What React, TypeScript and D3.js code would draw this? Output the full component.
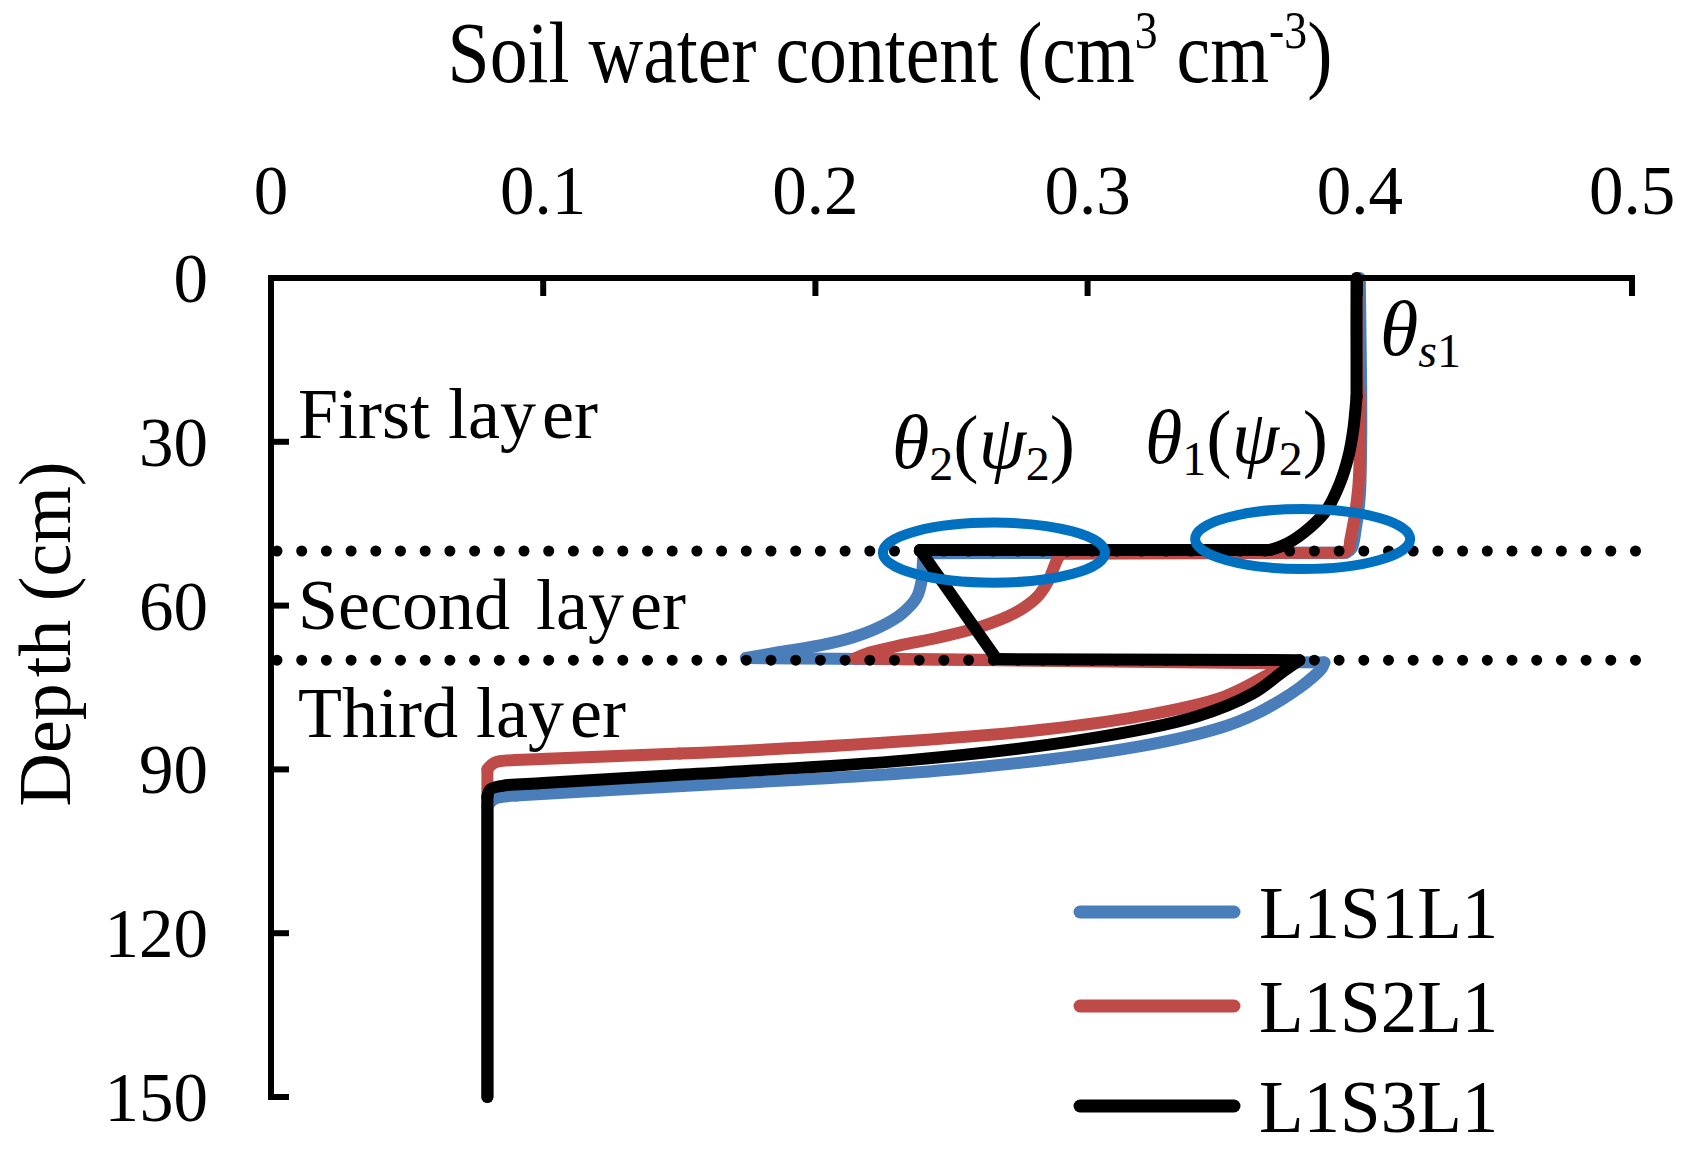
import React from "react";
import * as d3 from "d3";

// ---------- data ----------
const xTicks = [0, 0.1, 0.2, 0.3, 0.4, 0.5];
const xTickLabels = ["0", "0.1", "0.2", "0.3", "0.4", "0.5"];
const yTicks = [0, 30, 60, 90, 120, 150];
const yTickLabels = ["0", "30", "60", "90", "120", "150"];
const layerBoundaries = [50, 70];
const seriesNames = ["L1S1L1", "L1S2L1", "L1S3L1"];
const seriesColors = ["#4A7EBB", "#BE4B48", "#000000"];

// [theta, depth]
const blueL1S1L1: [number, number][] = [
  [0.4, 0], [0.4005, 20], [0.4005, 30], [0.4, 40], [0.3985, 46], [0.397, 49.5], [0.395, 50.3],
  [0.2398, 50.4],
  [0.2395, 52], [0.239, 55.5], [0.2372, 58.5], [0.2317, 61.5], [0.2237, 63.9], [0.2139, 65.8],
  [0.2017, 67.3], [0.187, 68.5], [0.1745, 69.6],
  [0.387, 70.4],
  [0.386, 71.5], [0.383, 73], [0.378, 75], [0.371, 77.3], [0.362, 79.8], [0.35, 82.2],
  [0.319, 85.8], [0.2555, 89.8], [0.1712, 92.5], [0.12, 93.9],
  [0.09, 94.8], [0.082, 95.4], [0.0795, 96.8], [0.0795, 150],
];
const redL1S2L1: [number, number][] = [
  [0.399, 0], [0.399, 15], [0.4, 25], [0.4, 32], [0.3995, 38], [0.398, 44], [0.3965, 48], [0.396, 49.5], [0.394, 50.3],
  [0.29, 50.5],
  [0.2886, 51.8], [0.2855, 55.5], [0.2813, 58.5], [0.2727, 61.5], [0.2605, 63.9], [0.2458, 65.8],
  [0.2311, 67.3], [0.22, 68.6], [0.2145, 69.7],
  [0.371, 70.6],
  [0.369, 71.8], [0.365, 73], [0.35, 76.7], [0.319, 80.3],
  [0.2766, 83.1], [0.2134, 85.5], [0.15, 87.1],
  [0.09, 88.3], [0.082, 88.8], [0.0795, 90], [0.0795, 150],
];
const blackL1S3L1: [number, number][] = [
  [0.3988, 0], [0.3988, 21.7], [0.3976, 27.8], [0.3958, 32.7],
  [0.3927, 37.6], [0.3878, 42.5], [0.3817, 45.7], [0.3735, 48.6],
  [0.367, 49.8],
  [0.2384, 49.8],
  [0.2666, 69.8],
  [0.3778, 70],
  [0.372, 72], [0.361, 76], [0.34, 80.3],
  [0.2977, 84.6], [0.2344, 88.3], [0.15, 91], [0.1, 92.5],
  [0.085, 93], [0.0805, 93.7], [0.0795, 95], [0.0795, 150],
];
const allSeries = [blueL1S1L1, redL1S2L1, blackL1S3L1];

// ellipse annotations: center theta, center depth, radius theta, radius depth
const ellipseCx = [0.2656, 0.379];
const ellipseCy = [50.3, 47.8];
const ellipseRx = [0.0408, 0.0395];
const ellipseRy = [5.5, 5.5];

// split a profile into smooth runs and straight pieces (horizontal jumps, the straight diagonal, long verticals)
function splitRuns(pts: [number, number][]) {
  const smooth: [number, number][][] = [];
  const straight: [number, number][][] = [];
  let run: [number, number][] = [pts[0]];
  for (let i = 0; i < pts.length - 1; i++) {
    const a = pts[i], b = pts[i + 1];
    const dx = Math.abs(b[0] - a[0]);
    const dy = Math.abs(b[1] - a[1]);
    const isJump = dx > 0.02 && dy < 1.5;
    const isLong = dy > 15;
    if (isJump || isLong) {
      if (run.length > 1) smooth.push(run);
      straight.push([a, b]);
      run = [b];
    } else {
      run.push(b);
    }
  }
  if (run.length > 1) smooth.push(run);
  return { smooth, straight };
}

export default function App() {
  const W = 1699, H = 1164;
  const x = d3.scaleLinear().domain([0, 0.5]).range([271, 1632]);
  const y = d3.scaleLinear().domain([0, 150]).range([278, 1097]);
  const smoothLine = d3
    .line<[number, number]>()
    .x((d) => x(d[0]))
    .y((d) => y(d[1]))
    .curve(d3.curveCatmullRom.alpha(0.5));
  const straightLine = d3
    .line<[number, number]>()
    .x((d) => x(d[0]))
    .y((d) => y(d[1]));

  const font = "'Liberation Serif', 'Times New Roman', serif";
  const tickLen = 18;
  const axisW = 6;

  return (
    <svg
      width={W}
      height={H}
      viewBox={`0 0 ${W} ${H}`}
      style={{ position: "absolute", left: 0, top: 0, background: "#fff" }}
      fontFamily={font}
    >
      <rect x={0} y={0} width={W} height={H} fill="#fff" />

      {/* title */}
      <g transform={`translate(890, 82) scale(0.88, 1)`}>
        <text x={0} y={0} textAnchor="middle" fontSize={86} fill="#000">
          Soil water content (cm
          <tspan fontSize={52} dy={-34}>3</tspan>
          <tspan dy={34}> cm</tspan>
          <tspan fontSize={52} dy={-34}>-3</tspan>
          <tspan dy={34}>)</tspan>
        </text>
      </g>

      {/* top tick labels */}
      {xTicks.map((t, i) => (
        <text key={"xl" + i} x={x(t)} y={214} textAnchor="middle" fontSize={69} fill="#000">
          {xTickLabels[i]}
        </text>
      ))}

      {/* left tick labels */}
      {yTicks.map((t, i) => (
        <text key={"yl" + i} x={208} y={y(t) + 24} textAnchor="end" fontSize={69} fill="#000">
          {yTickLabels[i]}
        </text>
      ))}

      {/* y axis title */}
      <text transform={`translate(70, 634) rotate(-90)`} textAnchor="middle" fontSize={74} fill="#000">
        Dep<tspan dx={6}>th</tspan> (cm)
      </text>

      {/* series */}
      {allSeries.map((s, i) => {
        const { smooth, straight } = splitRuns(s);
        return (
          <g key={"s" + i} fill="none" stroke={seriesColors[i]} strokeWidth={12} strokeLinejoin="round" strokeLinecap="round">
            {straight.map((seg, j) => (
              <path key={"st" + j} d={straightLine(seg) || ""} />
            ))}
            {smooth.map((seg, j) => (
              <path key={"sm" + j} d={smoothLine(seg) || ""} />
            ))}
          </g>
        );
      })}

      {/* layer boundaries */}
      {layerBoundaries.map((b, i) => (
        <line
          key={"b" + i}
          x1={x(0) + 6}
          x2={x(0.5) + 12}
          y1={y(b)}
          y2={y(b)}
          stroke="#000"
          strokeWidth={11}
          strokeLinecap="round"
          strokeDasharray="0 24.7"
        />
      ))}

      {/* axes */}
      <line x1={x(0)} x2={x(0.5)} y1={y(0)} y2={y(0)} stroke="#000" strokeWidth={axisW} strokeLinecap="square" />
      <line x1={x(0)} x2={x(0)} y1={y(0)} y2={y(150)} stroke="#000" strokeWidth={axisW} strokeLinecap="square" />
      {xTicks.slice(1).map((t, i) => (
        <line key={"xt" + i} x1={x(t)} x2={x(t)} y1={y(0)} y2={y(0) + tickLen} stroke="#000" strokeWidth={axisW} />
      ))}
      {yTicks.slice(1).map((t, i) => (
        <line key={"yt" + i} x1={x(0)} x2={x(0) + tickLen} y1={y(t)} y2={y(t)} stroke="#000" strokeWidth={axisW} />
      ))}

      {/* ellipses */}
      {ellipseCx.map((c, i) => (
        <ellipse
          key={"e" + i}
          cx={x(c)}
          cy={y(ellipseCy[i])}
          rx={x(ellipseRx[i]) - x(0)}
          ry={y(ellipseRy[i]) - y(0)}
          fill="none"
          stroke="#0070C0"
          strokeWidth={10}
        />
      ))}

      {/* layer labels */}
      <text x={298} y={438} fontSize={72} fill="#000">
        First lay<tspan dx={6}>er</tspan>
      </text>
      <text x={298} y={629} fontSize={72} fill="#000">
        Second <tspan dx={8}>lay</tspan><tspan dx={6}>er</tspan>
      </text>
      <text x={298} y={737} fontSize={72} fill="#000">
        Third lay<tspan dx={6}>er</tspan>
      </text>

      {/* theta annotations */}
      <text x={1380} y={355} fontSize={78} fill="#000">
        <tspan fontStyle="italic">θ</tspan>
        <tspan fontSize={48} dy={12} fontStyle="italic">s</tspan>
        <tspan fontSize={48}>1</tspan>
      </text>
      <text x={892} y={468} fontSize={76} fill="#000">
        <tspan fontStyle="italic">θ</tspan>
        <tspan fontSize={48} dy={12}>2</tspan>
        <tspan dy={-12}>(</tspan>
        <tspan fontStyle="italic">ψ</tspan>
        <tspan fontSize={48} dy={12}>2</tspan>
        <tspan dy={-12}>)</tspan>
      </text>
      <text x={1145} y={463} fontSize={76} fill="#000">
        <tspan fontStyle="italic">θ</tspan>
        <tspan fontSize={48} dy={12}>1</tspan>
        <tspan dy={-12}>(</tspan>
        <tspan fontStyle="italic">ψ</tspan>
        <tspan fontSize={48} dy={12}>2</tspan>
        <tspan dy={-12}>)</tspan>
      </text>

      {/* legend */}
      {seriesNames.map((n, i) => {
        const ly = [912, 1006, 1106][i];
        return (
          <g key={"lg" + i}>
            <line x1={1080} x2={1234} y1={ly} y2={ly} stroke={seriesColors[i]} strokeWidth={13} strokeLinecap="round" />
            <text x={1259} y={ly + 26} fontSize={73} fill="#000">
              {n}
            </text>
          </g>
        );
      })}
    </svg>
  );
}
